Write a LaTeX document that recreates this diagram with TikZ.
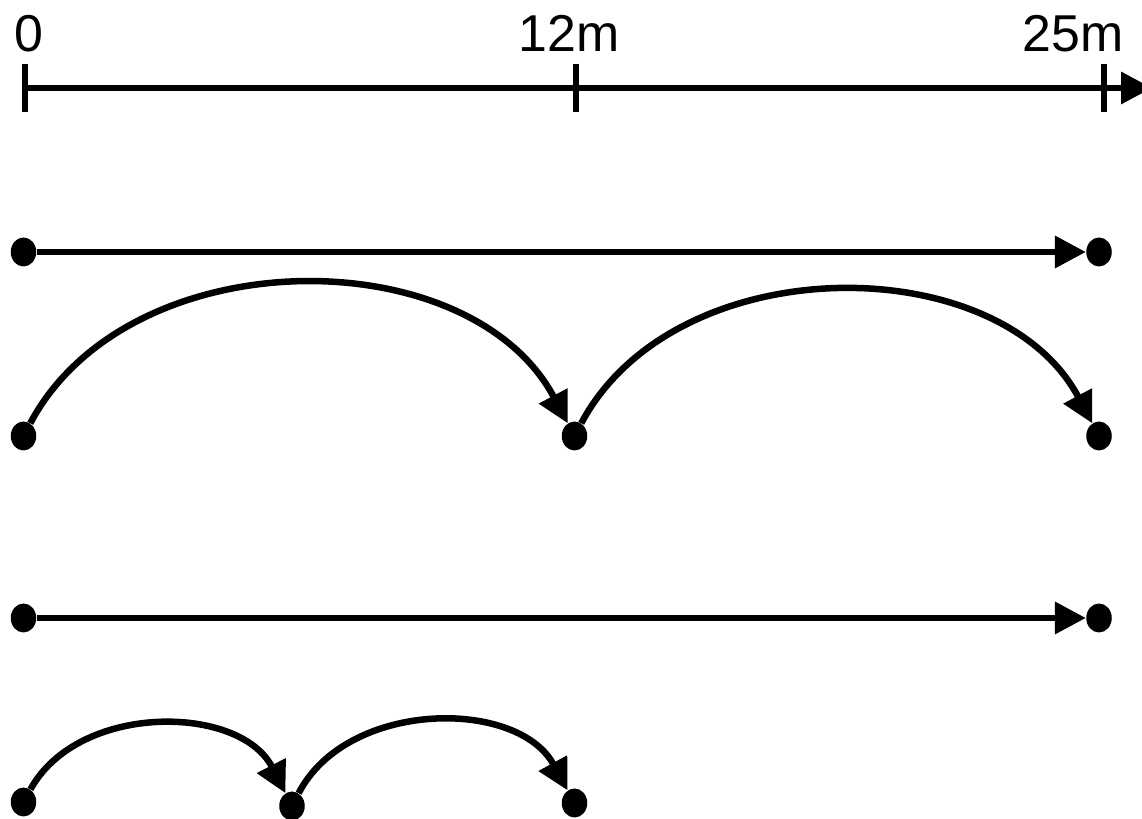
\documentclass[tikz,border=0pt]{standalone}
\usepackage{fontspec}
\setmainfont{Liberation Sans}
\usepackage{tikz}
\usetikzlibrary{shapes.geometric, arrows.meta, positioning, calc}

\begin{document}
\begin{tikzpicture}[
    font=\fontsize{29.5}{34}\selectfont,
    dot/.style={ellipse, fill=black, inner sep=0pt,
                minimum width=0.51cm, minimum height=0.58cm},
    arr/.style={-{Triangle[length=0.62cm, width=0.62cm]}, line width=0.13cm},
    tick/.style={line width=0.13cm},
    hop/.style={arr, bend left=62},
]
\useasboundingbox (0,0) rectangle (22.84,16.38);

% distance scale
\coordinate (o)   at (0.5,14.62);
\coordinate (t12) at (11.52,14.62);
\coordinate (t25) at (22.08,14.62);
\coordinate (ax)  at (23.04,14.62);
\draw[arr] (o) -- (ax);
\draw[tick] ($(o)+(0,0.48)$) -- ($(o)-(0,0.48)$);
\draw[tick] ($(t12)+(0,0.48)$) -- ($(t12)-(0,0.48)$);
\draw[tick] ($(t25)+(0,0.48)$) -- ($(t25)-(0,0.48)$);
\node[anchor=base] (l0)  at (0.58,15.34) {0};
\node[anchor=base] (l12) at (11.38,15.34) {12m};
\node[anchor=base] (l25) at (21.46,15.34) {25m};

% row 1
\node[dot] (a1) at (0.47,11.34) {};
\node[dot] (a2) at (21.98,11.34) {};
\draw[arr] (a1) -- (a2);

% row 2
\node[dot] (b1) at (0.47,7.66) {};
\node[dot] (b2) at (11.49,7.66) {};
\node[dot] (b3) at (21.98,7.66) {};
\draw[hop] (b1) to (b2);
\draw[hop] (b2) to (b3);

% row 3
\node[dot] (c1) at (0.47,4.02) {};
\node[dot] (c2) at (21.98,4.02) {};
\draw[arr] (c1) -- (c2);

% row 4
\node[dot] (d1) at (0.47,0.34) {};
\node[dot] (d2) at (5.84,0.26) {};
\node[dot] (d3) at (11.49,0.32) {};
\draw[hop] (d1) to (d2);
\draw[hop] (d2) to (d3);
\end{tikzpicture}
\end{document}
